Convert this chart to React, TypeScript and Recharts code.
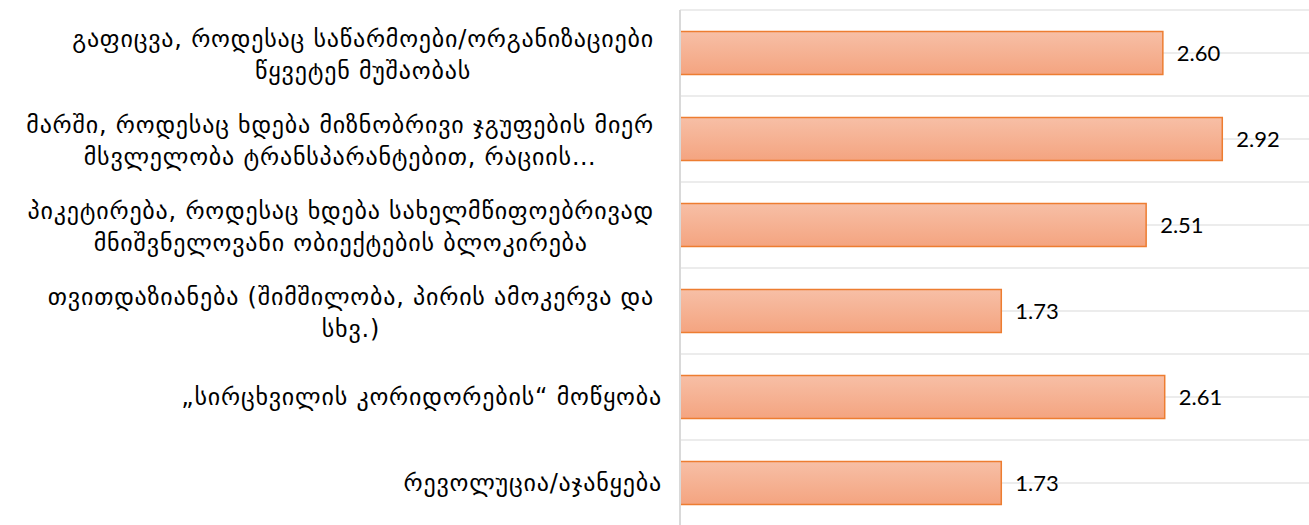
import React from "react";
import { BarChart, Bar, XAxis, YAxis, CartesianGrid, LabelList } from "recharts";

const categories = [
  "გაფიცვა, როდესაც საწარმოები/ორგანიზაციები\nწყვეტენ მუშაობას",
  "მარში, როდესაც ხდება მიზნობრივი ჯგუფების მიერ\nმსვლელობა ტრანსპარანტებით, რაციის…",
  "პიკეტირება, როდესაც ხდება სახელმწიფოებრივად\nმნიშვნელოვანი ობიექტების ბლოკირება",
  "თვითდაზიანება (შიმშილობა, პირის ამოკერვა და\nსხვ.)",
  "„სირცხვილის კორიდორების“ მოწყობა",
  "რევოლუცია/აჯანყება",
];
const values = [2.6, 2.92, 2.51, 1.73, 2.61, 1.73];

const data = categories.map((name, i) => ({ name, value: values[i] }));

const FS = 24;
const LS = 0.8;
const CAT_FONT = `${FS}px 'DejaVu Sans'`;
let ctx: CanvasRenderingContext2D | null = null;
function measure(t: string) {
  if (!ctx) ctx = document.createElement("canvas").getContext("2d");
  if (!ctx) return t.length * 14;
  ctx.font = CAT_FONT;
  return ctx.measureText(t).width + Array.from(t).length * LS;
}

const CatTick = (props: any) => {
  const { x, y, payload } = props;
  const lines: string[] = String(payload.value).split("\n");
  const lh = 32;
  const common = { fontSize: FS, fontFamily: "'DejaVu Sans'", fill: "#000", letterSpacing: LS };
  if (lines.length === 1) {
    return (
      <text x={x} y={y} dy={8} textAnchor="end" {...common}>
        {lines[0]}
      </text>
    );
  }
  const w = Math.max(...lines.map(measure));
  const cx = x - 8 - w / 2;
  const start = y - ((lines.length - 1) * lh) / 2 + 2;
  return (
    <g>
      {lines.map((l, i) => (
        <text key={i} x={cx} y={start + i * lh} dy={8} textAnchor="middle" {...common}>
          {l}
        </text>
      ))}
    </g>
  );
};

export default function App() {
  return (
    <div style={{ position: "absolute", left: 0, top: 0, width: 1309, height: 525, overflow: "hidden", background: "#fff" }}>
      <BarChart
        width={1330}
        height={526}
        data={data}
        layout="vertical"
        margin={{ top: 10, right: 0, bottom: 0, left: 0 }}
        barCategoryGap="25%"
      >
        <defs>
          <linearGradient id="barGrad" x1="0" y1="0" x2="0" y2="1">
            <stop offset="0%" stopColor="#f7bfa6" />
            <stop offset="100%" stopColor="#f4a480" />
          </linearGradient>
        </defs>
        <CartesianGrid
          vertical={false}
          stroke="#e6e6e6"
          strokeWidth={1.5}
          horizontalCoordinatesGenerator={({ offset }: any) => {
            const arr: number[] = [];
            for (let i = 0; i <= categories.length * 2; i++) arr.push(offset.top + (offset.height / (categories.length * 2)) * i);
            return arr;
          }}
        />
        <XAxis type="number" domain={[0, 3.5]} hide />
        <YAxis
          type="category"
          dataKey="name"
          width={680}
          axisLine={{ stroke: "#d9d9d9", strokeWidth: 2 }}
          tickLine={false}
          tick={<CatTick />}
          tickMargin={12}
          interval={0}
        />
        <Bar dataKey="value" fill="url(#barGrad)" stroke="#ed7d31" strokeWidth={1.5} isAnimationActive={false}>
          <LabelList
            dataKey="value"
            position="right"
            offset={14}
            formatter={(v: any) => Number(v).toFixed(2)}
            fill="#000"
            fontSize={22}
            fontFamily="Lato"
          />
        </Bar>
      </BarChart>
    </div>
  );
}
